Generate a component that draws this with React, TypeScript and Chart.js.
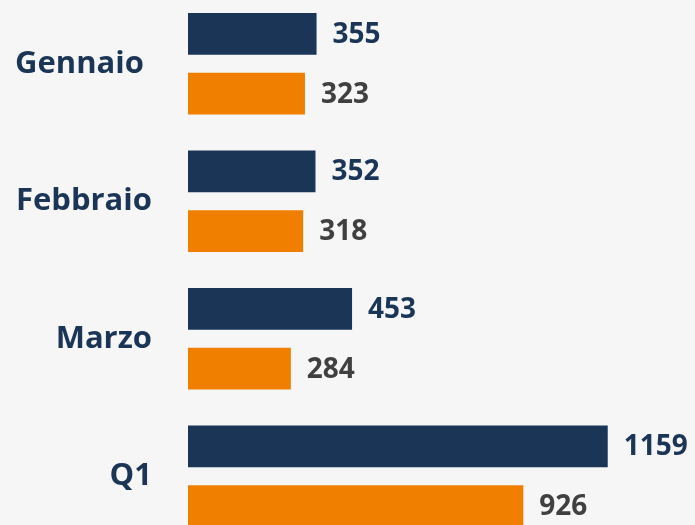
import React, { useEffect, useRef } from "react";
import { Chart, registerables } from "chart.js";

Chart.register(...registerables);

const categories = ["Gennaio ", "Febbraio", "Marzo", "Q1"];
const seriesA = [355, 352, 453, 1159];
const seriesB = [323, 318, 284, 926];

const NAVY = "#1b3556";
const ORANGE = "#f07f00";
const GRAY = "#404040";
const BG = "#f6f6f6";

const valueLabels = {
  id: "valueLabels",
  afterDatasetsDraw(chart: any) {
    const ctx = chart.ctx;
    ctx.save();
    ctx.font = "bold 28px 'Open Sans'";
    ctx.textAlign = "left";
    ctx.textBaseline = "middle";
    chart.data.datasets.forEach((ds: any, i: number) => {
      const meta = chart.getDatasetMeta(i);
      ctx.fillStyle = i === 0 ? NAVY : GRAY;
      meta.data.forEach((el: any, j: number) => {
        ctx.fillText(String(ds.data[j]), el.x + 16, el.y + 1);
      });
    });
    ctx.restore();
  },
};

export default function App() {
  const ref = useRef<HTMLCanvasElement>(null);
  useEffect(() => {
    if (!ref.current) return;
    const chart = new Chart(ref.current, {
      type: "bar",
      data: {
        labels: categories,
        datasets: [
          { data: seriesA, backgroundColor: NAVY, categoryPercentage: 0.87, barPercentage: 0.7 },
          { data: seriesB, backgroundColor: ORANGE, categoryPercentage: 0.87, barPercentage: 0.7 },
        ],
      },
      options: {
        indexAxis: "y",
        animation: false,
        responsive: true,
        maintainAspectRatio: false,
        layout: { padding: 0 },
        plugins: { legend: { display: false }, tooltip: { enabled: false } },
        scales: {
          x: { display: false, min: 0, max: 1400 },
          y: {
            grid: { display: false, drawTicks: false, tickLength: 0 },
            border: { display: false },
            afterFit(scale: any) {
              scale.width = 188;
              scale.paddingTop = 0;
              scale.paddingBottom = 0;
            },
            ticks: {
              padding: 36,
              color: NAVY,
              font: { family: "'Open Sans'", weight: "bold", size: 31 },
            },
          },
        },
      },
      plugins: [valueLabels],
    });
    return () => chart.destroy();
  }, []);
  return (
    <div style={{ position: "fixed", left: 0, top: 0, width: 695, height: 525, overflow: "hidden", background: BG }}>
      <div style={{ position: "absolute", left: 0, top: -5, width: 695, height: 550 }}>
        <canvas ref={ref} />
      </div>
    </div>
  );
}
